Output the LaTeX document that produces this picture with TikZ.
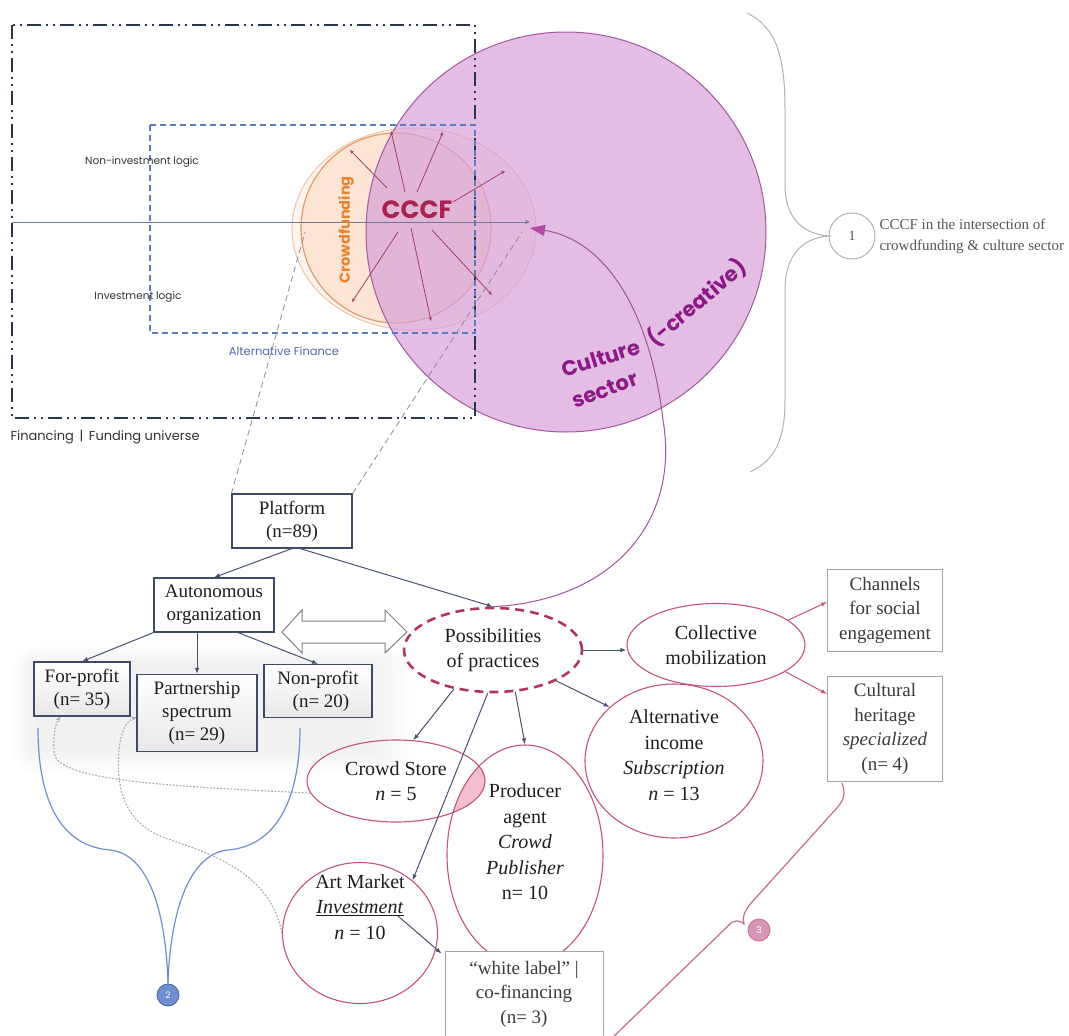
\documentclass[tikz,border=0pt]{standalone}
\usepackage{fontspec}
\setmainfont{Liberation Serif}
\newfontfamily\headsans{Poppins}
\usetikzlibrary{shapes.geometric,arrows.meta,calc}

\definecolor{navyline}{HTML}{2C3550}
\definecolor{altblue}{HTML}{5C7CC0}
\definecolor{alttext}{HTML}{4F6AA8}
\definecolor{axiscol}{HTML}{6C7A93}
\definecolor{cfouterdraw}{HTML}{F2C1A5}
\definecolor{cfouterfill}{HTML}{FEF5EF}
\definecolor{cfinnerdraw}{HTML}{E39A66}
\definecolor{cfinnerfill}{HTML}{FCE5D5}
\definecolor{culfill}{HTML}{D9A3D9}
\definecolor{culdraw}{HTML}{A457A0}
\definecolor{cccfcol}{HTML}{A8234F}
\definecolor{cftext}{HTML}{E8822E}
\definecolor{cultext}{HTML}{8B1A88}
\definecolor{raycol}{HTML}{A3405E}
\definecolor{boxline}{HTML}{3E4A66}
\definecolor{treeline}{HTML}{46526E}
\definecolor{possdash}{HTML}{B23460}
\definecolor{ellipdraw}{HTML}{C45473}
\definecolor{graybox}{HTML}{A5A5A5}
\definecolor{dotcol}{HTML}{A8A8A8}
\definecolor{bluebrace}{HTML}{6F8FD0}
\definecolor{pinkbrace}{HTML}{C46A95}
\definecolor{bigarrow}{HTML}{A0559A}
\definecolor{bigtip}{HTML}{B34AA3}
\definecolor{textdark}{HTML}{1E1E1E}
\definecolor{textgray}{HTML}{3A3A3A}
\definecolor{notegray}{HTML}{555555}
\definecolor{labelgray}{HTML}{333333}
\definecolor{overlap}{HTML}{F2BFD0}

\newcommand\culturefont{\headsans\bfseries\fontsize{21}{21}\selectfont}

\begin{document}
\begin{tikzpicture}[x=1pt,y=-1pt,
  treebox/.style={draw=boxline, line width=1.1pt, fill=white, inner sep=0pt, align=center,
    font=\fontsize{19}{23}\selectfont, text=textdark},
  shadebox/.style={treebox, top color=white, bottom color=black!9},
  greybox/.style={draw=graybox, line width=0.9pt, fill=white, inner sep=0pt, align=center,
    font=\fontsize{19}{24.5}\selectfont, text=textgray},
  practice/.style={ellipse, draw=ellipdraw, line width=1.1pt, inner sep=0pt, align=center,
    font=\fontsize{20}{25.5}\selectfont, text=textdark},
  practicetext/.style={align=center, font=\fontsize{20}{25.5}\selectfont, text=textdark},
  tree/.style={draw=treeline, line width=1pt, -{Latex[length=6pt,width=4.5pt]}},
  pinkarrow/.style={draw=ellipdraw, line width=1pt, -{Latex[length=6pt,width=4.5pt]}},
  ray/.style={draw=raycol, line width=0.8pt, -{Stealth[length=4pt,width=3.2pt]}},
  guide/.style={draw=black!45, line width=0.8pt, dash pattern=on 6pt off 4pt},
  dotline/.style={draw=dotcol, line width=1.1pt, dash pattern=on 1.8pt off 1.6pt,
    -{Stealth[length=5pt,width=4pt]}},
  toplabel/.style={font=\headsans\fontsize{10.5}{12}\selectfont, text=labelgray},
  culturelabel/.style={font=\culturefont, text=cultext, inner sep=0pt},
  badge/.style={circle, inner sep=0pt, minimum size=22pt, text=white,
    font=\headsans\fontsize{9}{9}\selectfont}
]
\useasboundingbox (0,0) rectangle (1069,1036);

% ---------- crowdfunding sphere ----------
\fill[cfouterfill] (414,229) ellipse [x radius=122, y radius=101];
\draw[cfouterdraw, line width=1pt] (414,229) ellipse [x radius=122, y radius=101];
\fill[cfinnerfill] (396,228) ellipse [x radius=95, y radius=95];
\draw[cfinnerdraw, line width=1.2pt] (396,228) ellipse [x radius=95, y radius=95];

% ---------- culture (-creative) sector ----------
\fill[culfill, fill opacity=0.72] (566,232) circle [radius=200];
\draw[culdraw, line width=1pt] (566,232) circle [radius=200];

% ---------- funding universe and alternative finance frames ----------
\draw[navyline, line width=2.4pt, dash pattern=on 14pt off 5pt on 2pt off 5pt on 2pt off 5pt]
  (12,25) rectangle (475,418);
\draw[altblue, line width=1.5pt, dash pattern=on 6pt off 4pt] (150,125) rectangle (475,333);

% investment axis
\coordinate (axisL) at (12,222);
\coordinate (axisR) at (530,222);
\draw[axiscol, line width=1pt, -{Stealth[length=5pt,width=4pt]}] (axisL) -- (axisR);

% ---------- CCCF core with rays ----------
\node[font=\headsans\bfseries\fontsize{25}{25}\selectfont, text=cccfcol] (cccf) at (417,210) {CCCF};
\foreach \a/\b/\c/\d in {-30/-22/-67/-60, -12/-18/-26/-79, 0/-18/26/-78, 36/-8/88/-39,
                         -19/22/-65/92, -6/18/14/111, 15/20/75/85}
  \draw[ray] ($(cccf)+(\a,\b)$) -- ($(cccf)+(\c,\d)$);

\node[rotate=90, font=\headsans\bfseries\fontsize{14.5}{14.5}\selectfont, text=cftext] at (346,230) {Crowdfunding};

\node[culturelabel, rotate=17] at (601,358) {Culture};
\node[culturelabel, rotate=40] at (697,303) {(-creative)};
\node[culturelabel, rotate=21] at (605,390) {sector};

% ---------- frame labels ----------
\node[toplabel] at (142,162) {Non-investment logic};
\node[toplabel] at (138,297) {Investment logic};
\node[toplabel, text=alttext, font=\headsans\fontsize{11.5}{12}\selectfont] at (284,351) {Alternative Finance};
\node[anchor=west, font=\headsans\fontsize{13}{14}\selectfont, text=labelgray] at (7,437)
  {Financing \,|\, Funding universe};

% ---------- note 1 ----------
\draw[black!30, line width=1pt]
  (747,13) .. controls (778,28) and (785,60) .. (785,110) -- (785,185)
  .. controls (785,215) and (800,234) .. (829,236)
  .. controls (800,238) and (785,258) .. (785,290) -- (785,400)
  .. controls (785,440) and (775,460) .. (750,472);
\node[circle, draw=black!30, line width=1pt, minimum size=46pt, inner sep=0pt,
      font=\fontsize{14}{14}\selectfont, text=notegray] (one) at (852,236) {1};
\node[anchor=west, align=left, font=\fontsize{15}{21}\selectfont, text=notegray] at (876,236)
  {CCCF in the intersection of\\crowdfunding \& culture sector};

% ---------- soft haze behind the organisation boxes ----------
\foreach \k in {0,...,13}
  \fill[black, opacity=0.005, rounded corners={4pt+2pt*\k}]
    ({36-2*\k},{664-1.5*\k}) rectangle ({370+3.5*\k},{750+2*\k});

% ---------- platform tree ----------
\node[treebox, minimum width=120pt, minimum height=54pt] (plat) at (292,521) {Platform\\(n=89)};
\node[treebox, minimum width=120pt, minimum height=54pt] (auto) at (214,605) {Autonomous\\organization};
\node[shadebox, minimum width=96pt, minimum height=54pt] (forp) at (82,689) {For-profit\\(n= 35)};
\node[shadebox, minimum width=120pt, minimum height=77pt] (part) at (197,713) {Partnership\\spectrum\\(n= 29)};
\node[shadebox, minimum width=108pt, minimum height=53pt] (nonp) at (318,691) {Non-profit\\\hspace*{6pt}(n= 20)};

% dashed guides up to the crowdfunding sphere
\coordinate (cfL) at (305,232);
\coordinate (cfR) at (522,232);
\draw[guide] (plat.north west) -- (cfL);
\draw[guide] (plat.north east) -- (cfR);

% ---------- practices ----------
\node[practice, draw=possdash, line width=2.6pt, dash pattern=on 9pt off 6pt,
      minimum width=178pt, minimum height=84pt] (poss) at (493,650) {Possibilities\\of practices};
\node[practice, minimum width=178pt, minimum height=83pt] (coll) at (716,645) {Collective\\mobilization};
\node[practice, minimum width=178pt, minimum height=154pt] (alt) at (674,761) {};
\node[practicetext] at ($(alt)+(0,-6)$) {Alternative\\income\\\textit{Subscription}\\\textit{n} = 13};

% shared zone of Crowd Store and Producer agent
\begin{scope}
  \clip (396,781) ellipse [x radius=89, y radius=41];
  \fill[overlap] (525,855) ellipse [x radius=78, y radius=110];
\end{scope}
\node[practice, minimum width=178pt, minimum height=82pt] (crowd) at (396,781) {Crowd Store\\\textit{n} = 5};
\node[practice, minimum width=156pt, minimum height=220pt] (prod) at (525,855) {};
\node[practicetext] at ($(prod)+(0,-13)$) {Producer\\agent\\\textit{Crowd}\\\textit{Publisher}\\n= 10};
\node[practice, minimum width=155pt, minimum height=141pt] (art) at (360,933) {};
\node[practicetext] at ($(art)+(0,-26)$) {Art Market\\\underline{\textit{Investment}}\\\textit{n} = 10};

\node[greybox, minimum width=115pt, minimum height=82pt] (chan) at (885,610) {Channels\\for social\\engagement};
\node[greybox, minimum width=115pt, minimum height=105pt] (cult) at (885,729) {Cultural\\heritage\\\textit{specialized}\\(n= 4)};
\node[greybox, minimum width=158pt, minimum height=86pt] (white) at (524,994) {``white label'' |\\co-financing\\(n= 3)};

% hollow two-way arrow between organisation and practices
\draw[black!50, line width=1pt, fill=white]
  (282,632) -- (302,610) -- (302,621) -- (385,621) -- (385,610) -- (407,632)
  -- (385,653) -- (385,643) -- (302,643) -- (302,653) -- cycle;

% tree connectors
\draw[tree] (plat.south) -- (auto.north);
\draw[tree] ([xshift=8pt]plat.south) -- (poss.north);
\draw[tree] (auto.south west) -- (forp.north);
\draw[tree] (part.north |- auto.south) -- (part.north);
\draw[tree] ([xshift=24pt]auto.south) -- (nonp.north);
\draw[tree] (poss.east) -- (poss.east -| coll.west);
\draw[tree] (poss.334) -- (alt.140);
\draw[tree] (poss.225) -- (crowd.67);
\draw[tree] (poss.298) -- (prod.north);
\draw[tree] (poss.263) -- (art.45);
\draw[tree] ($(art.center)+(38,-17)$) -- ([shift={(-3,3)}]white.north west);
\draw[pinkarrow] (coll.19) -- ([yshift=8pt]chan.west);
\draw[pinkarrow] (coll.339) -- ([yshift=-18pt]cult.north west);

% practices feeding back into the culture sector
\coordinate (cultTip) at (530,228);
\draw[bigarrow, line width=1pt, -{Triangle[length=15pt,width=11pt,color=bigtip]}]
  (poss.north) .. controls (615,600) and (680,520) .. (663,420)
  .. controls (650,310) and (605,240) .. (cultTip);

% dotted links back to the organisation forms
\draw[dotline] (crowd.188) .. controls (160,786) and (55,780) .. (54,752)
  .. controls (53,735) and (55,726) .. ([xshift=-22pt]forp.south);
\draw[dotline] (art.west) .. controls (270,870) and (205,852) .. (165,838)
  .. controls (122,822) and (116,785) .. (119,750)
  .. controls (121,730) and (127,721) .. ([yshift=-4pt]part.west);

% ---------- note 2 ----------
\node[badge, fill=bluebrace, draw=bluebrace!70!black, line width=0.8pt] (two) at (168,995) {2};
\draw[bluebrace, line width=1.2pt]
  (38,728) .. controls (38,800) and (60,846) .. (110,850)
  .. controls (150,854) and (166,915) .. (two.north);
\draw[bluebrace, line width=1.2pt]
  (300,728) .. controls (300,800) and (276,846) .. (228,850)
  .. controls (188,854) and (170,915) .. (two.north);

% ---------- note 3 ----------
\node[badge, fill=pinkbrace!70!white, draw=pinkbrace, line width=0.8pt] (three) at (759,930) {3};
\coordinate (tip3) at (744,924);
\draw[pinkbrace, line width=1.2pt]
  (842,783) .. controls (846,794) and (844,800) .. (836,809) -- (752,902)
  .. controls (744,911) and (742,918) .. (tip3)
  .. controls (740,920) and (734,919) .. (728,926) -- (610,1040);
\end{tikzpicture}
\end{document}
